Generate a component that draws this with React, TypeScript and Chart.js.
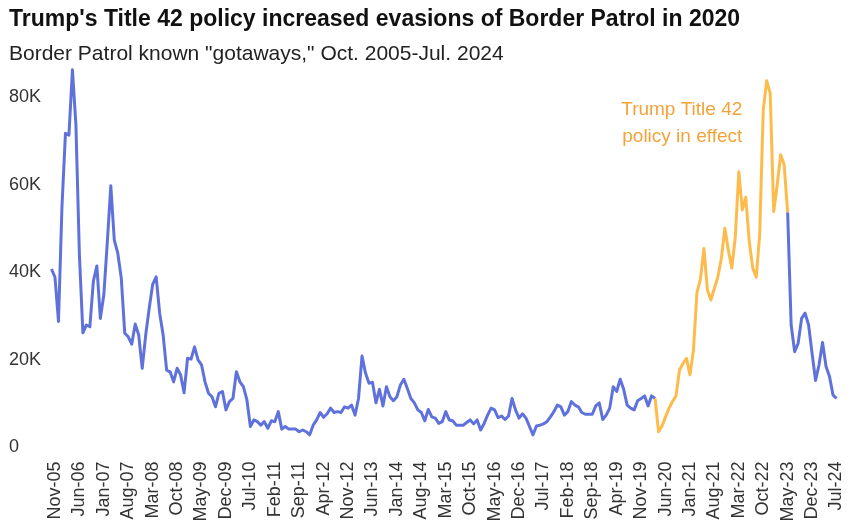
import React, { useEffect, useRef } from "react";
import { Chart, registerables } from "chart.js";

Chart.register(...registerables);

const TITLE = "Trump's Title 42 policy increased evasions of Border Patrol in 2020";
const SUBTITLE = 'Border Patrol known "gotaways," Oct. 2005-Jul. 2024';

const START_YEAR = 2005;
const START_MONTH_INDEX = 9; // October
const MONTH_NAMES = ["Jan", "Feb", "Mar", "Apr", "May", "Jun", "Jul", "Aug", "Sep", "Oct", "Nov", "Dec"];

// Monthly known gotaways, Oct 2005 - Jul 2024
const GOTAWAYS = [
  40800, 38900, 28800, 55000, 71800, 71400, 86300, 73700, 44000, 26200,
  28000, 27600, 38000, 41500, 29500, 34900, 47000, 59800, 47400, 44400,
  38700, 26100, 25300, 23600, 28200, 25700, 18100, 25700, 31800, 37300,
  39000, 30700, 25700, 17700, 17300, 15000, 18100, 16600, 12500, 20400,
  20200, 23000, 20000, 18900, 15000, 12400, 11600, 9300, 12400, 12800,
  8600, 10500, 11200, 17300, 15000, 13900, 10900, 4800, 6300, 5900,
  5100, 5900, 4400, 6100, 5900, 8200, 4200, 4800, 4200, 4200,
  4200, 3600, 4000, 3600, 2900, 5100, 6300, 8000, 6900, 7700,
  9000, 8000, 8200, 8000, 9300, 9000, 9700, 7400, 11200, 20900,
  17000, 14700, 14900, 10200, 13300, 9500, 13900, 11600, 10700, 11600,
  14300, 15600, 13500, 11200, 10200, 8600, 8000, 6100, 8700, 7000,
  6700, 5500, 5900, 8200, 6300, 6100, 5100, 5100, 5100, 5700,
  6300, 5400, 6300, 4000, 5500, 7400, 9000, 8600, 6800, 7200,
  6400, 7200, 11200, 8600, 6700, 7700, 6700, 4800, 2900, 4900,
  5100, 5400, 5900, 7000, 8200, 9700, 9300, 7400, 8200, 10500,
  9700, 9300, 8000, 7600, 7600, 7600, 9500, 10200, 6400, 7400,
  9000, 13900, 12800, 15600, 13300, 9700, 9000, 8600, 10700, 11200,
  11800, 9500, 11800, 11200, 3600, 4900, 7000, 9000, 10500, 11800,
  17700, 19200, 20400, 16600, 22300, 35400, 38500, 45500, 36000, 33700,
  36400, 39000, 43200, 50100, 45100, 41000, 48200, 63000, 54300, 57200,
  47000, 41000, 38900, 48900, 77100, 83800, 81000, 53900, 60000, 66900,
  64600, 53700, 28000, 21900, 23800, 29500, 30700, 28000, 21500, 15300,
  18900, 24000, 18500, 16200, 12000, 11200,
];

// Title 42 period (Mar 2020 - May 2023) as indexes into GOTAWAYS
const TITLE42_START = 173;
const TITLE42_END = 211;

const TICK_EVERY = 7;
const TICK_OFFSET = 1;
const Y_TICKS = [0, 20000, 40000, 60000, 80000];
const Y_MAX = 87000;

const NOTE_LINES = ["Trump Title 42", "policy in effect"];
const NOTE_INDEX = 198;
const NOTE_VALUES = [75900, 69800];

const BLUE = "#5f72dc";
const ORANGE = "#fdbb4c";
const NOTE_COLOR = "#f3a33a";
const FONT = "'Liberation Sans', Arial, Helvetica, sans-serif";

function monthLabels(count: number): string[] {
  const out: string[] = [];
  for (let i = 0; i < count; i++) {
    const m = START_MONTH_INDEX + i;
    const year = START_YEAR + Math.floor(m / 12);
    out.push(MONTH_NAMES[m % 12] + "-" + String(year % 100).padStart(2, "0"));
  }
  return out;
}

const LABELS = monthLabels(GOTAWAYS.length);

const notePlugin = {
  id: "title42note",
  afterDatasetsDraw(chart: any) {
    const { ctx, scales } = chart;
    const x = scales.x;
    const y = scales.y;
    ctx.save();
    ctx.font = `19px ${FONT}`;
    ctx.fillStyle = NOTE_COLOR;
    ctx.textAlign = "right";
    ctx.textBaseline = "alphabetic";
    NOTE_LINES.forEach((t, k) => {
      ctx.fillText(t, x.getPixelForValue(NOTE_INDEX), y.getPixelForValue(NOTE_VALUES[k]));
    });
    ctx.restore();
  },
};

export default function App() {
  const ref = useRef<HTMLCanvasElement | null>(null);

  useEffect(() => {
    if (!ref.current) return;
    Chart.defaults.font.family = FONT;
    const chart = new Chart(ref.current, {
      type: "line",
      data: {
        labels: LABELS,
        datasets: [
          {
            data: GOTAWAYS,
            borderColor: BLUE,
            borderWidth: 3,
            pointRadius: 0,
            tension: 0,
            borderJoinStyle: "round",
            segment: {
              borderColor: (c: any) =>
                c.p0DataIndex >= TITLE42_START && c.p0DataIndex < TITLE42_END ? ORANGE : BLUE,
            },
          },
        ],
      },
      options: {
        animation: false,
        responsive: true,
        maintainAspectRatio: false,
        events: [],
        layout: { padding: { left: 9, right: 28.5, top: 0, bottom: 0 } },
        plugins: {
          legend: { display: false },
          tooltip: { enabled: false },
          title: {
            display: true,
            text: TITLE,
            align: "start",
            color: "#111",
            font: { size: 23, weight: "bold", family: FONT },
            padding: { top: 6, bottom: 0 },
          },
          subtitle: {
            display: true,
            text: SUBTITLE,
            align: "start",
            color: "#222",
            font: { size: 21, family: FONT },
            padding: { top: 8, bottom: 0 },
          },
        },
        scales: {
          x: {
            type: "category",
            grid: { display: false, drawTicks: false },
            border: { display: false },
            ticks: {
              autoSkip: false,
              maxRotation: 90,
              minRotation: 90,
              padding: 14,
              color: "#333",
              font: { size: 18, family: FONT },
              callback: (_v: any, idx: number) =>
                (idx - TICK_OFFSET) % TICK_EVERY === 0 && idx >= TICK_OFFSET ? LABELS[idx] : null,
            },
            afterFit: (s: any) => {
              s.height = 81.5;
              s.paddingLeft = 0;
              s.paddingRight = 0;
            },
          },
          y: {
            min: 0,
            max: Y_MAX,
            grid: { display: false, drawTicks: false },
            border: { display: false },
            afterBuildTicks: (s: any) => {
              s.ticks = Y_TICKS.map((v) => ({ value: v }));
            },
            ticks: {
              color: "#333",
              font: { size: 18, family: FONT },
              crossAlign: "far",
              padding: 0,
              callback: (v: any) => (Number(v) === 0 ? "0" : Number(v) / 1000 + "K"),
            },
            afterFit: (s: any) => {
              s.width = 42.5;
              s.paddingTop = 0;
              s.paddingBottom = 0;
            },
          },
        },
      },
      plugins: [notePlugin],
    } as any);
    return () => chart.destroy();
  }, []);

  return (
    <div style={{ position: "fixed", left: 0, top: 0, width: 865, height: 529, background: "#fff" }}>
      <canvas ref={ref} />
    </div>
  );
}
